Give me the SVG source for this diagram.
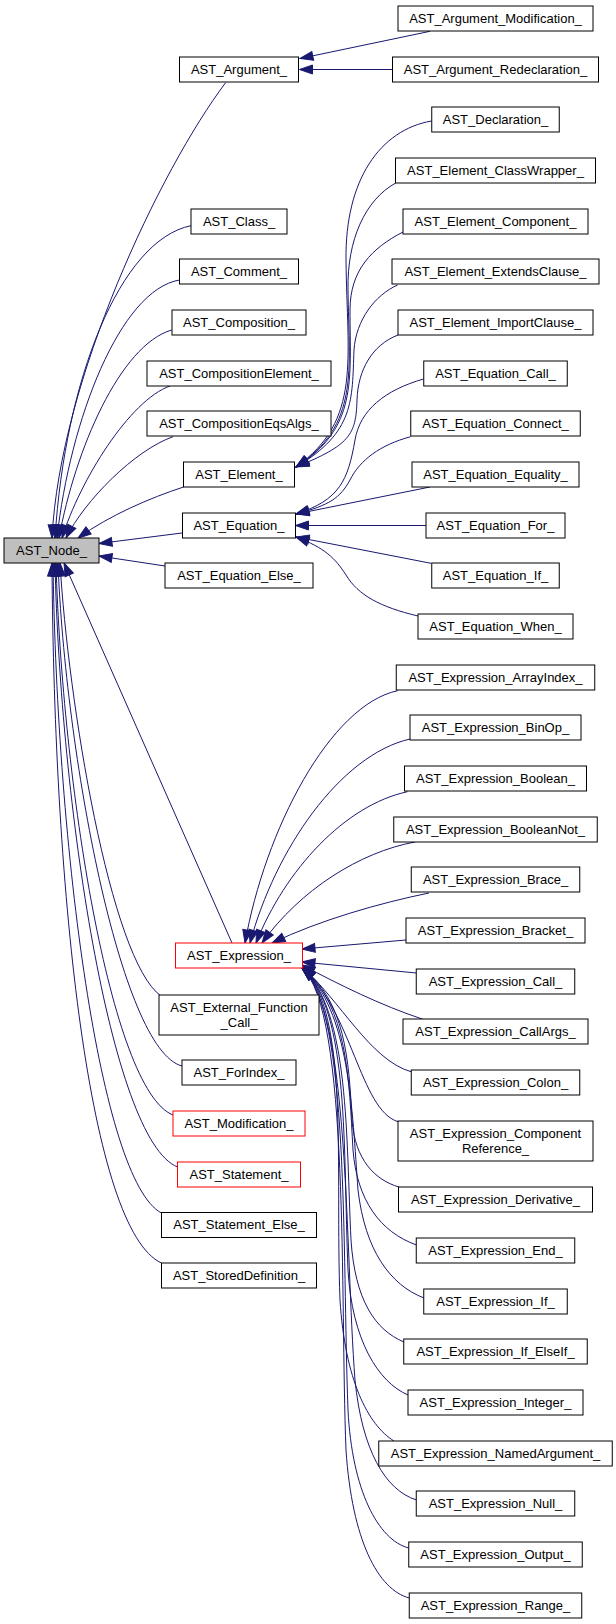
<svg xmlns="http://www.w3.org/2000/svg" width="616" height="1624" viewBox="0 0 616 1624">
<style>
.n rect{fill:#fff;stroke:#000;stroke-width:1}
.n.red rect{stroke:#ff0000}
.n.root rect{fill:#bfbfbf}
text{font-family:"Liberation Sans",Arial,Helvetica,sans-serif;font-size:13px;text-anchor:middle;fill:#000}
.e{fill:none;stroke:#191970;stroke-width:1;marker-end:url(#ah)}
</style>
<defs>
<marker id="ah" markerWidth="13" markerHeight="9" refX="13" refY="4.5" orient="auto" markerUnits="userSpaceOnUse" overflow="visible">
<path d="M0,0 L13,4.5 L0,9 z" fill="#191970" stroke="#191970" stroke-width="1"/>
</marker>
</defs>
<rect x="0" y="0" width="616" height="1624" fill="#fff"/>
<g id="edges">
<path class="e" d="M430,31.3 L300,58.5"/>
<path class="e" d="M392.5,69.5 L299.5,69.5"/>
<path class="e" d="M225.6,82.7 C160,170 60,380 52,538"/>
<path class="e" d="M191,225.7 C120,240 65,380 55,538"/>
<path class="e" d="M179.5,280 C120,290 70,420 57,538"/>
<path class="e" d="M171.7,330 C120,345 75,450 59,538"/>
<path class="e" d="M170,386 C130,400 80,480 62,538"/>
<path class="e" d="M173,436.7 C135,450 85,500 66,538"/>
<path class="e" d="M183.5,487 C150,498 110,515 78,538"/>
<path class="e" d="M182,533 L99,543.5"/>
<path class="e" d="M165,566 L99,556"/>
<path class="e" d="M232,943 L64,563"/>
<path class="e" d="M161,996 C110,960 68,700 60,563"/>
<path class="e" d="M182,1066 C120,1050 65,750 58,563"/>
<path class="e" d="M173,1115 C110,1090 62,780 56,563"/>
<path class="e" d="M177.6,1167 C110,1140 60,800 55,563"/>
<path class="e" d="M161.4,1213 C100,1180 57,850 53,563"/>
<path class="e" d="M161.4,1263 C90,1230 54,900 52,563"/>
<path class="e" d="M431.5,121 C380,130 345,180 346,260 C347,360 362,420 296,467"/>
<path class="e" d="M395.7,183 C365,200 347,240 348,290 C349,370 360,425 296,467"/>
<path class="e" d="M403,232 C372,248 350,270 350,310 C350,380 358,428 296,467"/>
<path class="e" d="M397.6,285 C375,295 356,320 354,350 C352,400 355,432 296,467"/>
<path class="e" d="M398,335 C372,345 358,370 357,400 C356,435 350,445 296,467"/>
<path class="e" d="M423.6,379 C385,390 360,410 355,440 C348,480 340,500 296,514"/>
<path class="e" d="M410.6,436.7 C380,445 360,460 350,480 C340,498 330,505 296,514"/>
<path class="e" d="M430,487 L296,514"/>
<path class="e" d="M426,525.5 L295.5,525.5"/>
<path class="e" d="M431,563.3 L296,537"/>
<path class="e" d="M418,616 C380,607 358,595 346,575 C335,558 325,548 296,537"/>
<path class="e" d="M397.6,690.7 C330,705 265,830 245,943"/>
<path class="e" d="M410,739 C340,755 275,850 250,943"/>
<path class="e" d="M407.5,791.7 C345,805 285,870 256,943"/>
<path class="e" d="M415,842 C360,852 300,890 262,943"/>
<path class="e" d="M429,893 C380,903 320,920 272,943"/>
<path class="e" d="M406,940 L302,949"/>
<path class="e" d="M416.5,973 L302,962"/>
<path class="e" d="M423,1019.3 C380,1005 340,985 302,965"/>
<path class="e" d="M411,1071.7 C370,1060 340,1000 302,967"/>
<path class="e" d="M398,1121.7 C360,1110 352,1010 302,968"/>
<path class="e" d="M399,1187 C375,1180 355,1160 352,1120 C349,1060 345,1000 302,968"/>
<path class="e" d="M416.5,1245 C380,1232 357,1200 353,1150 C349,1080 348,1005 302,968"/>
<path class="e" d="M424,1298 C390,1285 365,1250 358,1190 C352,1110 350,1010 302,968"/>
<path class="e" d="M404,1342 C375,1330 355,1300 351,1240 C346,1140 350,1010 302,968"/>
<path class="e" d="M408,1395 C378,1382 352,1340 348,1270 C343,1150 350,1010 302,968"/>
<path class="e" d="M394,1441 C368,1425 345,1380 340,1300 C335,1170 350,1010 302,968"/>
<path class="e" d="M416.5,1500 C385,1490 362,1450 355,1380 C345,1250 350,1010 302,968"/>
<path class="e" d="M408.7,1548 C378,1540 352,1490 348,1410 C342,1250 350,1010 302,968"/>
<path class="e" d="M409.4,1598 C378,1590 352,1540 346,1450 C340,1300 350,1010 302,968"/>
</g>
<g id="node-AST_Node_" class="n root"><rect x="4" y="538" width="95" height="25"/><text x="51.5" y="554.5">AST_Node_</text></g>
<g id="node-AST_Argument_" class="n"><rect x="179.5" y="57" width="119" height="25"/><text x="239" y="73.5">AST_Argument_</text></g>
<g id="node-AST_Class_" class="n"><rect x="191" y="209" width="96" height="25"/><text x="239" y="225.5">AST_Class_</text></g>
<g id="node-AST_Comment_" class="n"><rect x="179.5" y="259" width="119" height="25"/><text x="239" y="275.5">AST_Comment_</text></g>
<g id="node-AST_Composition_" class="n"><rect x="172" y="310" width="134" height="25"/><text x="239" y="326.5">AST_Composition_</text></g>
<g id="node-AST_CompositionElement_" class="n"><rect x="147" y="361" width="184" height="25"/><text x="239" y="377.5">AST_CompositionElement_</text></g>
<g id="node-AST_CompositionEqsAlgs_" class="n"><rect x="147" y="411" width="184" height="25"/><text x="239" y="427.5">AST_CompositionEqsAlgs_</text></g>
<g id="node-AST_Element_" class="n"><rect x="183.5" y="462" width="111" height="25"/><text x="239" y="478.5">AST_Element_</text></g>
<g id="node-AST_Equation_" class="n"><rect x="182.5" y="513" width="113" height="25"/><text x="239" y="529.5">AST_Equation_</text></g>
<g id="node-AST_Equation_Else_" class="n"><rect x="165" y="563" width="148" height="25"/><text x="239" y="579.5">AST_Equation_Else_</text></g>
<g id="node-AST_Expression_" class="n red"><rect x="175.5" y="943" width="127" height="25"/><text x="239" y="959.5">AST_Expression_</text></g>
<g id="node-AST_External_Function_Call_" class="n"><rect x="159" y="995" width="160" height="40"/><text x="239" y="1012">AST_External_Function</text><text x="239" y="1026.5">_Call_</text></g>
<g id="node-AST_ForIndex_" class="n"><rect x="182" y="1060" width="114" height="25"/><text x="239" y="1076.5">AST_ForIndex_</text></g>
<g id="node-AST_Modification_" class="n red"><rect x="173" y="1111" width="132" height="25"/><text x="239" y="1127.5">AST_Modification_</text></g>
<g id="node-AST_Statement_" class="n red"><rect x="177.5" y="1162" width="123" height="25"/><text x="239" y="1178.5">AST_Statement_</text></g>
<g id="node-AST_Statement_Else_" class="n"><rect x="161.5" y="1212.5" width="155" height="25"/><text x="239" y="1229">AST_Statement_Else_</text></g>
<g id="node-AST_StoredDefinition_" class="n"><rect x="161.5" y="1263" width="155" height="25"/><text x="239" y="1279.5">AST_StoredDefinition_</text></g>
<g id="node-AST_Argument_Modification_" class="n"><rect x="398" y="6" width="195" height="25"/><text x="495.5" y="22.5">AST_Argument_Modification_</text></g>
<g id="node-AST_Argument_Redeclaration_" class="n"><rect x="392.5" y="57" width="206" height="25"/><text x="495.5" y="73.5">AST_Argument_Redeclaration_</text></g>
<g id="node-AST_Declaration_" class="n"><rect x="431.75" y="107" width="127.5" height="25"/><text x="495.5" y="123.5">AST_Declaration_</text></g>
<g id="node-AST_Element_ClassWrapper_" class="n"><rect x="395.5" y="158" width="200" height="25"/><text x="495.5" y="174.5">AST_Element_ClassWrapper_</text></g>
<g id="node-AST_Element_Component_" class="n"><rect x="403" y="209" width="185" height="25"/><text x="495.5" y="225.5">AST_Element_Component_</text></g>
<g id="node-AST_Element_ExtendsClause_" class="n"><rect x="392" y="259" width="207" height="25"/><text x="495.5" y="275.5">AST_Element_ExtendsClause_</text></g>
<g id="node-AST_Element_ImportClause_" class="n"><rect x="398" y="310" width="195" height="25"/><text x="495.5" y="326.5">AST_Element_ImportClause_</text></g>
<g id="node-AST_Equation_Call_" class="n"><rect x="423.75" y="361" width="143.5" height="25"/><text x="495.5" y="377.5">AST_Equation_Call_</text></g>
<g id="node-AST_Equation_Connect_" class="n"><rect x="410.75" y="411" width="169.5" height="25"/><text x="495.5" y="427.5">AST_Equation_Connect_</text></g>
<g id="node-AST_Equation_Equality_" class="n"><rect x="412" y="462" width="167" height="25"/><text x="495.5" y="478.5">AST_Equation_Equality_</text></g>
<g id="node-AST_Equation_For_" class="n"><rect x="426" y="513" width="139" height="25"/><text x="495.5" y="529.5">AST_Equation_For_</text></g>
<g id="node-AST_Equation_If_" class="n"><rect x="431.75" y="563" width="127.5" height="25"/><text x="495.5" y="579.5">AST_Equation_If_</text></g>
<g id="node-AST_Equation_When_" class="n"><rect x="418" y="614" width="155" height="25"/><text x="495.5" y="630.5">AST_Equation_When_</text></g>
<g id="node-AST_Expression_ArrayIndex_" class="n"><rect x="396.25" y="665" width="198.5" height="25"/><text x="495.5" y="681.5">AST_Expression_ArrayIndex_</text></g>
<g id="node-AST_Expression_BinOp_" class="n"><rect x="410" y="715" width="171" height="25"/><text x="495.5" y="731.5">AST_Expression_BinOp_</text></g>
<g id="node-AST_Expression_Boolean_" class="n"><rect x="404.5" y="766" width="182" height="25"/><text x="495.5" y="782.5">AST_Expression_Boolean_</text></g>
<g id="node-AST_Expression_BooleanNot_" class="n"><rect x="393.75" y="817" width="203.5" height="25"/><text x="495.5" y="833.5">AST_Expression_BooleanNot_</text></g>
<g id="node-AST_Expression_Brace_" class="n"><rect x="411.25" y="867" width="168.5" height="25"/><text x="495.5" y="883.5">AST_Expression_Brace_</text></g>
<g id="node-AST_Expression_Bracket_" class="n"><rect x="406" y="918" width="179" height="25"/><text x="495.5" y="934.5">AST_Expression_Bracket_</text></g>
<g id="node-AST_Expression_Call_" class="n"><rect x="416.25" y="969" width="158.5" height="25"/><text x="495.5" y="985.5">AST_Expression_Call_</text></g>
<g id="node-AST_Expression_CallArgs_" class="n"><rect x="403" y="1019" width="185" height="25"/><text x="495.5" y="1035.5">AST_Expression_CallArgs_</text></g>
<g id="node-AST_Expression_Colon_" class="n"><rect x="411.25" y="1070" width="168.5" height="25"/><text x="495.5" y="1086.5">AST_Expression_Colon_</text></g>
<g id="node-AST_Expression_ComponentReference_" class="n"><rect x="398" y="1121" width="195" height="40"/><text x="495.5" y="1138">AST_Expression_Component</text><text x="495.5" y="1152.5">Reference_</text></g>
<g id="node-AST_Expression_Derivative_" class="n"><rect x="398.5" y="1187" width="194" height="25"/><text x="495.5" y="1203.5">AST_Expression_Derivative_</text></g>
<g id="node-AST_Expression_End_" class="n"><rect x="416.25" y="1238" width="158.5" height="25"/><text x="495.5" y="1254.5">AST_Expression_End_</text></g>
<g id="node-AST_Expression_If_" class="n"><rect x="423.75" y="1289" width="143.5" height="25"/><text x="495.5" y="1305.5">AST_Expression_If_</text></g>
<g id="node-AST_Expression_If_ElseIf_" class="n"><rect x="403.75" y="1339" width="183.5" height="25"/><text x="495.5" y="1355.5">AST_Expression_If_ElseIf_</text></g>
<g id="node-AST_Expression_Integer_" class="n"><rect x="408" y="1390" width="175" height="25"/><text x="495.5" y="1406.5">AST_Expression_Integer_</text></g>
<g id="node-AST_Expression_NamedArgument_" class="n"><rect x="378.75" y="1441" width="233.5" height="25"/><text x="495.5" y="1457.5">AST_Expression_NamedArgument_</text></g>
<g id="node-AST_Expression_Null_" class="n"><rect x="416.25" y="1491" width="158.5" height="25"/><text x="495.5" y="1507.5">AST_Expression_Null_</text></g>
<g id="node-AST_Expression_Output_" class="n"><rect x="408.75" y="1542" width="173.5" height="25"/><text x="495.5" y="1558.5">AST_Expression_Output_</text></g>
<g id="node-AST_Expression_Range_" class="n"><rect x="409.25" y="1593" width="172.5" height="25"/><text x="495.5" y="1609.5">AST_Expression_Range_</text></g>
</svg>
